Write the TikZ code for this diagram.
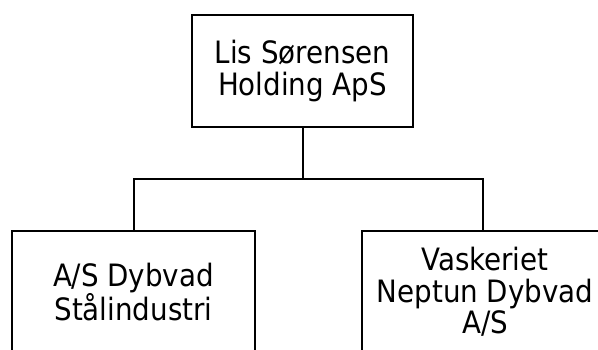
\documentclass[tikz,border=0pt]{standalone}
\usepackage{fontspec}
\setmainfont{DejaVu Sans Condensed}
\begin{document}
\begin{tikzpicture}[x=1pt,y=-1pt,
  orgbox/.style={draw=black,line width=2pt,fill=white,align=center,inner sep=0pt,
    font=\fontsize{30.8}{31.5}\selectfont},
  link/.style={draw=black,line width=2pt}]
\useasboundingbox (0,0) rectangle (598,349);
\clip (0,0) rectangle (598,349);
\node[orgbox,minimum width=221pt,minimum height=112pt] (top) at (302.5,71) {Lis Sørensen\\Holding ApS};
\node[orgbox,minimum width=243pt,minimum height=122pt] (left) at (133.5,292) {A/S Dybvad\\Stålindustri};
\node[orgbox,minimum width=246pt,minimum height=122pt] (right) at (485,292) {Vaskeriet\\Neptun Dybvad\\A/S};
\coordinate (bus) at (302.5,179);
\draw[link] (top.south) -- (bus);
\draw[link] (left.north) |- (bus) -| ([xshift=-2pt]right.north);
\end{tikzpicture}
\end{document}
